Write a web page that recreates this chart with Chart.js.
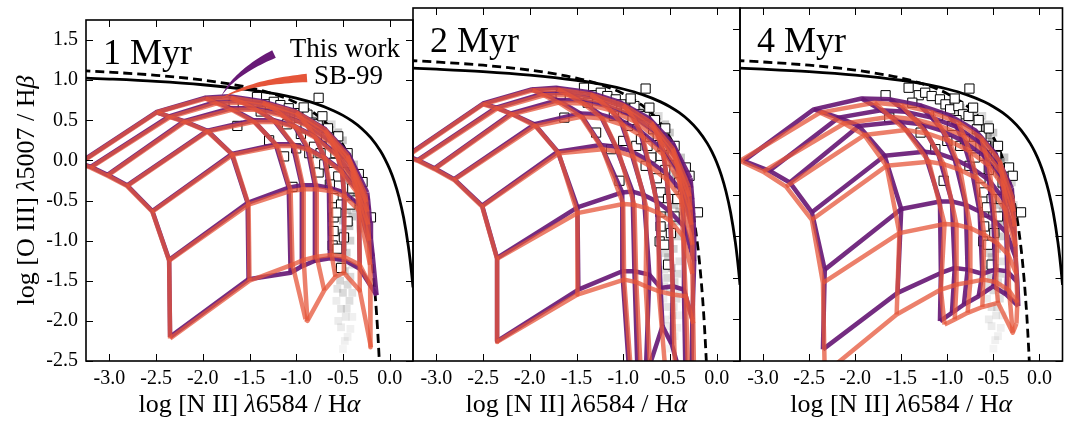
<!DOCTYPE html>
<html>
<head>
<meta charset="utf-8">
<script src="https://cdn.jsdelivr.net/npm/chart.js@4.4.1/dist/chart.umd.min.js"></script>
<style>
  html, body { margin: 0; padding: 0; background: #fff; overflow: hidden; }
  #wrap { position: relative; width: 1065px; height: 422px; overflow: hidden; }
  #wrap canvas { position: absolute; left: 0; top: 0; }
</style>
</head>
<body>
<div id="wrap">
  <canvas id="p1" width="1070" height="422"></canvas>
  <canvas id="p2" width="1070" height="422"></canvas>
  <canvas id="p3" width="1070" height="422"></canvas>
</div>
<script>
const xTicks = [-3.0, -2.5, -2.0, -1.5, -1.0, -0.5, 0.0];
const yTicks = [-2.5, -2.0, -1.5, -1.0, -0.5, 0.0, 0.5, 1.0, 1.5];
const ages = ['1 Myr', '2 Myr', '4 Myr'];

// model grids: one row per ionization parameter (high U first),
// one entry per metallicity (low Z first), each [log NII/Ha, log OIII/Hb]
const work1Myr = [
  [[-3.32,-0.03],[-2.50,0.60],[-1.98,0.78],[-1.72,0.80],[-1.38,0.74],[-1.02,0.62],[-0.70,0.40],[-0.44,0.08],[-0.24,-0.40]],
  [[-3.20,-0.08],[-2.36,0.55],[-1.86,0.73],[-1.60,0.74],[-1.28,0.68],[-0.96,0.55],[-0.66,0.33],[-0.42,0.01],[-0.23,-0.50]],
  [[-3.02,-0.18],[-2.20,0.49],[-1.70,0.65],[-1.44,0.65],[-1.16,0.58],[-0.89,0.45],[-0.61,0.22],[-0.39,-0.10],[-0.22,-0.62]],
  [[-2.81,-0.31],[-1.95,0.37],[-1.46,0.50],[-1.24,0.50],[-1.02,0.43],[-0.80,0.30],[-0.56,0.07],[-0.37,-0.24],[-0.21,-0.78]],
  [[-2.54,-0.63],[-1.69,0.08],[-1.22,0.20],[-1.04,0.20],[-0.88,0.15],[-0.70,0.04],[-0.51,-0.13],[-0.34,-0.38],[-0.20,-0.98]],
  [[-2.36,-1.24],[-1.52,-0.53],[-1.08,-0.34],[-0.94,-0.31],[-0.80,-0.31],[-0.65,-0.34],[-0.49,-0.40],[-0.33,-0.55],[-0.18,-1.20]],
  [[-2.35,-2.20],[-1.51,-1.48],[-1.06,-1.40],[-0.94,-1.32],[-0.80,-1.25],[-0.64,-1.22],[-0.49,-1.24],[-0.32,-1.35],[-0.14,-1.68]]
];
const sb1Myr = [
  [[-3.32,-0.04],[-2.49,0.60],[-1.97,0.77],[-1.70,0.78],[-1.36,0.72],[-1.00,0.60],[-0.69,0.38],[-0.45,0.06],[-0.26,-0.42]],
  [[-3.20,-0.09],[-2.35,0.54],[-1.85,0.71],[-1.58,0.72],[-1.26,0.66],[-0.95,0.53],[-0.66,0.31],[-0.43,-0.01],[-0.25,-0.52]],
  [[-3.02,-0.19],[-2.19,0.48],[-1.69,0.63],[-1.43,0.63],[-1.15,0.56],[-0.88,0.43],[-0.61,0.20],[-0.40,-0.12],[-0.24,-0.64]],
  [[-2.81,-0.32],[-1.95,0.36],[-1.45,0.48],[-1.22,0.48],[-1.00,0.41],[-0.79,0.28],[-0.56,0.05],[-0.38,-0.26],[-0.23,-0.80]],
  [[-2.54,-0.64],[-1.68,0.07],[-1.20,0.18],[-1.02,0.18],[-0.86,0.13],[-0.69,0.02],[-0.51,-0.15],[-0.35,-0.40],[-0.22,-1.00]],
  [[-2.36,-1.25],[-1.51,-0.55],[-1.06,-0.38],[-0.92,-0.36],[-0.78,-0.36],[-0.63,-0.38],[-0.48,-0.45],[-0.33,-0.62],[-0.21,-1.30]],
  [[-2.35,-2.22],[-1.50,-1.50],[-1.04,-1.30],[-0.92,-1.24],[-0.78,-1.20],[-0.62,-1.18],[-0.49,-1.20],[-0.32,-1.30],[-0.21,-1.55]],
  [null,null,[-0.90,-1.98],[-0.88,-2.00],[-0.70,-1.62],[-0.58,-1.45],[-0.49,-1.40],[-0.32,-1.62],[-0.20,-2.33]]
];
const work2Myr = [
  [[-3.32,-0.03],[-2.50,0.60],[-1.98,0.77],[-1.72,0.79],[-1.38,0.74],[-1.04,0.62],[-0.72,0.42],[-0.47,0.12],[-0.28,-0.30]],
  [[-3.20,-0.08],[-2.36,0.55],[-1.86,0.72],[-1.60,0.73],[-1.28,0.67],[-0.97,0.55],[-0.68,0.34],[-0.44,0.03],[-0.27,-0.42]],
  [[-3.02,-0.18],[-2.20,0.48],[-1.70,0.64],[-1.45,0.64],[-1.17,0.57],[-0.90,0.45],[-0.63,0.23],[-0.41,-0.09],[-0.26,-0.56]],
  [[-2.81,-0.31],[-1.95,0.35],[-1.46,0.48],[-1.25,0.47],[-1.03,0.40],[-0.82,0.27],[-0.58,0.05],[-0.39,-0.25],[-0.25,-0.74]],
  [[-2.51,-0.63],[-1.70,0.02],[-1.24,0.10],[-1.08,0.08],[-0.92,0.03],[-0.74,-0.08],[-0.54,-0.24],[-0.37,-0.46],[-0.24,-0.98]],
  [[-2.35,-1.26],[-1.49,-0.65],[-1.01,-0.47],[-0.90,-0.46],[-0.78,-0.50],[-0.64,-0.58],[-0.50,-0.70],[-0.35,-0.88],[-0.24,-1.30]],
  [[-2.35,-2.26],[-1.48,-1.64],[-1.01,-1.42],[-0.88,-1.42],[-0.72,-1.46],[-0.60,-1.62],[-0.47,-1.60],[-0.35,-1.64],[-0.26,-2.00]],
  [null,null,[-0.92,-2.90],[-0.84,-2.90],[-0.76,-2.70],[-0.58,-2.08],[-0.48,-2.30],[-0.33,-2.90],[-0.27,-2.70]]
];
const sb2Myr = [
  [[-3.32,-0.04],[-2.50,0.59],[-1.97,0.76],[-1.70,0.77],[-1.35,0.71],[-1.00,0.58],[-0.70,0.37],[-0.47,0.06],[-0.30,-0.40]],
  [[-3.20,-0.09],[-2.35,0.54],[-1.85,0.70],[-1.58,0.70],[-1.25,0.63],[-0.94,0.50],[-0.66,0.28],[-0.45,-0.04],[-0.29,-0.52]],
  [[-3.02,-0.19],[-2.19,0.47],[-1.69,0.61],[-1.43,0.60],[-1.14,0.52],[-0.87,0.38],[-0.61,0.16],[-0.42,-0.16],[-0.28,-0.68]],
  [[-2.81,-0.32],[-1.94,0.33],[-1.45,0.44],[-1.22,0.42],[-1.00,0.34],[-0.79,0.20],[-0.57,-0.02],[-0.40,-0.33],[-0.27,-0.86]],
  [[-2.51,-0.64],[-1.69,0.00],[-1.22,0.05],[-1.05,0.02],[-0.89,-0.04],[-0.72,-0.15],[-0.53,-0.32],[-0.38,-0.55],[-0.26,-1.10]],
  [[-2.35,-1.27],[-1.49,-0.72],[-1.00,-0.61],[-0.88,-0.62],[-0.75,-0.66],[-0.62,-0.72],[-0.49,-0.82],[-0.36,-1.00],[-0.26,-1.45]],
  [[-2.35,-2.27],[-1.49,-1.70],[-0.99,-1.52],[-0.86,-1.55],[-0.76,-1.60],[-0.62,-1.66],[-0.47,-1.70],[-0.33,-1.72],[-0.25,-2.05]],
  [null,null,[-0.90,-2.90],[-0.80,-2.90],[-0.70,-2.80],[-0.55,-2.60],[-0.44,-2.80],[-0.30,-2.90],[-0.24,-2.80]]
];
const work4Myr = [
  [[-3.21,-0.09],[-2.45,0.53],[-1.93,0.66],[-1.62,0.65],[-1.30,0.58],[-0.98,0.46],[-0.70,0.28],[-0.48,0.00],[-0.30,-0.42]],
  [[-2.93,-0.21],[-2.18,0.43],[-1.72,0.52],[-1.45,0.50],[-1.17,0.43],[-0.90,0.32],[-0.65,0.13],[-0.45,-0.14],[-0.29,-0.58]],
  [[-2.71,-0.35],[-1.96,0.33],[-1.52,0.38],[-1.28,0.35],[-1.05,0.27],[-0.83,0.15],[-0.60,-0.03],[-0.42,-0.28],[-0.28,-0.75]],
  [[-2.47,-0.71],[-1.68,-0.03],[-1.25,0.02],[-1.10,0.00],[-0.92,-0.07],[-0.74,-0.17],[-0.55,-0.32],[-0.39,-0.55],[-0.27,-1.00]],
  [[-2.33,-1.40],[-1.50,-0.67],[-1.08,-0.58],[-0.95,-0.58],[-0.80,-0.62],[-0.65,-0.70],[-0.50,-0.80],[-0.36,-0.95],[-0.26,-1.25]],
  [[-2.35,-2.36],[-1.54,-1.68],[-1.07,-1.44],[-0.92,-1.38],[-0.78,-1.40],[-0.62,-1.45],[-0.48,-1.40],[-0.35,-1.42],[-0.24,-1.55]],
  [null,null,[-1.08,-2.02],[-0.95,-1.92],[-0.82,-1.82],[-0.66,-1.72],[-0.50,-1.60],[-0.36,-1.70],[-0.23,-1.84]]
];
const sb4Myr = [
  [[-3.25,-0.09],[-2.38,0.49],[-1.79,0.61],[-1.50,0.58],[-1.18,0.50],[-0.88,0.37],[-0.63,0.18],[-0.43,-0.10],[-0.29,-0.55]],
  [[-3.00,-0.22],[-2.12,0.36],[-1.62,0.44],[-1.36,0.41],[-1.08,0.33],[-0.82,0.21],[-0.59,0.02],[-0.41,-0.24],[-0.28,-0.70]],
  [[-2.75,-0.40],[-1.90,0.22],[-1.45,0.28],[-1.22,0.24],[-0.98,0.15],[-0.76,0.03],[-0.55,-0.15],[-0.39,-0.40],[-0.27,-0.88]],
  [[-2.47,-0.80],[-1.66,-0.15],[-1.20,-0.10],[-1.04,-0.13],[-0.86,-0.20],[-0.68,-0.30],[-0.51,-0.46],[-0.37,-0.68],[-0.26,-1.12]],
  [[-2.35,-1.56],[-1.52,-0.96],[-1.03,-0.85],[-0.90,-0.86],[-0.75,-0.90],[-0.60,-0.98],[-0.46,-1.08],[-0.34,-1.22],[-0.25,-1.45]],
  [[-2.33,-2.65],[-1.55,-1.94],[-1.07,-1.64],[-0.90,-1.58],[-0.75,-1.55],[-0.61,-1.52],[-0.47,-1.55],[-0.33,-1.65],[-0.24,-1.80]],
  [null,null,[-1.03,-2.06],[-0.92,-2.00],[-0.78,-1.92],[-0.62,-1.85],[-0.45,-1.80],[-0.29,-2.16],[-0.25,-2.05]]
];
const workGrids = [work1Myr, work2Myr, work4Myr];
const sbGrids = [sb1Myr, sb2Myr, sb4Myr];

// Kewley et al. (2001) maximum starburst line
const kewleyX = [-3.3, -3.0, -2.5, -2.0, -1.5, -1.2, -1.0, -0.8, -0.6, -0.5, -0.4, -0.3, -0.2, -0.1, -0.05, 0.0, 0.05, 0.1, 0.15, 0.2, 0.22, 0.25, 0.28];
const kewleyY = [1.028, 1.014, 0.985, 0.943, 0.880, 0.825, 0.775, 0.710, 0.620, 0.561, 0.489, 0.398, 0.280, 0.120, 0.017, -0.108, -0.262, -0.459, -0.716, -1.069, -1.250, -1.583, -2.021];
// Kauffmann et al. (2003) empirical line
const kauffX = [-3.3, -3.0, -2.5, -2.0, -1.5, -1.2, -1.0, -0.8, -0.7, -0.6, -0.5, -0.45, -0.4, -0.35, -0.3, -0.25, -0.2, -0.175, -0.15, -0.13, -0.11, -0.1];
const kauffY = [1.118, 1.100, 1.061, 1.002, 0.906, 0.812, 0.719, 0.582, 0.487, 0.362, 0.191, 0.080, -0.056, -0.225, -0.443, -0.733, -1.140, -1.411, -1.750, -2.089, -2.513, -2.767];

// observed galaxies
const obsX = [-1.67,-1.63,-1.42,-1.31,-1.24,-1.17,-1.08,-1.02,-0.97,-0.88,-0.76,-0.83,-0.77,-0.72,-0.68,-0.63,-0.58,-0.45,-0.47,-0.33,-0.29,-1.29,-1.13,-1.04,-0.86,-0.95,-0.81,-0.74,-0.76,-0.60,-0.60,-0.52,-0.60,-0.45,-0.20,-0.60,-0.49,-0.61,-0.56,-0.52,-1.38,-0.90,-0.66,-0.55,-1.00,-0.70,-0.55,-0.40,-0.36,-0.92,-1.10,-0.64,-0.57,-0.42];
const obsY = [0.70,0.43,0.79,0.70,0.73,0.69,0.65,0.59,0.53,0.57,0.78,0.47,0.45,0.55,0.29,0.21,0.09,0.09,-0.03,-0.17,-0.27,0.25,0.05,-0.33,0.09,0.33,0.17,0.09,-0.15,-0.03,-0.47,-0.55,-0.71,-0.76,-0.71,-0.88,-0.96,-1.06,-1.10,-1.34,0.61,0.40,0.40,0.30,0.15,-0.05,-0.20,-0.35,-0.50,0.66,0.45,-0.30,-0.65,-0.55];

// SDSS comparison sample, binned
const sdssX = [-0.95,-0.85,-0.78,-0.70,-0.64,-0.60,-0.56,-0.52,-0.48,-0.45,-0.42,-0.40,-0.37,-0.35,-0.33,-0.36,-0.40,-0.43,-0.47,-0.50,-0.46,-0.52,-0.48,-0.53,-0.45,-0.50,-0.43,-0.52,-0.47,-0.52,-0.45,-0.50,-0.62,-0.55,-0.50,-0.58,-0.30,-0.28,-0.56,-0.40,-0.57,-0.40,
  -0.90,-0.75,-0.68,-0.62,-0.55,-0.50,-0.47,-0.44,-0.41,-0.40,-0.45,-0.50,-0.55,-0.42,-0.55,-0.42,-0.56,-0.40,-0.46,-0.55,-0.42,-0.48,-0.38,-0.35,-0.32,-0.31];
const sdssY = [0.58,0.55,0.50,0.44,0.38,0.30,0.22,0.14,0.06,-0.02,-0.10,-0.20,-0.30,-0.40,-0.50,-0.60,-0.70,-0.82,-0.95,-1.08,-1.15,-1.25,-1.38,-1.50,-1.55,-1.65,-1.75,-1.85,-1.95,-2.08,-2.20,-2.35,0.45,0.35,0.25,0.10,-0.35,-0.62,-1.40,-1.30,-1.75,-1.95,
  0.50,0.42,0.32,0.22,0.10,0.00,-0.12,-0.25,-0.38,-0.50,-0.62,-0.75,-0.90,-1.00,-1.20,-1.45,-1.60,-1.65,-1.85,-2.00,-2.10,-2.25,-0.05,-0.20,-0.45,-0.85];
const sdssShade = [0.15,0.2,0.25,0.3,0.35,0.4,0.45,0.45,0.5,0.5,0.5,0.45,0.45,0.4,0.35,0.3,0.3,0.3,0.3,0.3,0.25,0.25,0.25,0.22,0.2,0.2,0.18,0.15,0.12,0.1,0.08,0.06,0.2,0.3,0.3,0.25,0.25,0.2,0.15,0.15,0.1,0.08,
  0.15,0.25,0.3,0.35,0.4,0.4,0.4,0.4,0.35,0.3,0.3,0.3,0.25,0.25,0.2,0.2,0.15,0.15,0.15,0.1,0.08,0.08,0.3,0.3,0.25,0.15];

const PURPLE = 'rgba(104,26,118,0.92)';
const ORANGE = 'rgba(229,85,57,0.75)';
const panelLeft = [86, 413, 740];
const panelWidth = 327;
const CANVAS_W = 1070;
const SERIF = '"Liberation Serif", "DejaVu Serif", serif';

const toXY = (xs, ys) => xs.map((x, i) => ({ x: x, y: ys[i] }));

function gridDatasets(grid, color, order) {
  const mk = pts => ({
    data: pts.filter(p => p).map(p => ({ x: p[0], y: p[1] })),
    showLine: true, borderColor: color, borderWidth: 4.5,
    pointRadius: 0, borderJoinStyle: 'round', order: order, clip: 0
  });
  const sets = grid.map(mk);
  for (let j = 0; j < grid[0].length; j++) sets.push(mk(grid.map(r => r[j])));
  return sets;
}

// text with italic greek symbols, centered at cx
function richText(ctx, parts, cx, cy, size) {
  const fonts = parts.map(p => (p[1] ? 'italic ' : '') + size + 'px ' + SERIF);
  let total = 0;
  const widths = parts.map((p, i) => { ctx.font = fonts[i]; const w = ctx.measureText(p[0]).width; total += w; return w; });
  let x = cx - total / 2;
  parts.forEach((p, i) => { ctx.font = fonts[i]; ctx.fillText(p[0], x, cy); x += widths[i]; });
}

function swoosh(ctx, p0, c, p1, wMax, color) {
  const left = [], right = [];
  for (let i = 0; i <= 24; i++) {
    const t = i / 24, u = 1 - t;
    const x = u * u * p0[0] + 2 * u * t * c[0] + t * t * p1[0];
    const y = u * u * p0[1] + 2 * u * t * c[1] + t * t * p1[1];
    const dx = 2 * u * (c[0] - p0[0]) + 2 * t * (p1[0] - c[0]);
    const dy = 2 * u * (c[1] - p0[1]) + 2 * t * (p1[1] - c[1]);
    const len = Math.hypot(dx, dy);
    const w = (0.4 + t * wMax) / 2;
    left.push([x - dy / len * w, y + dx / len * w]);
    right.push([x + dy / len * w, y - dx / len * w]);
  }
  ctx.beginPath();
  left.concat(right.reverse()).forEach((p, i) => i ? ctx.lineTo(p[0], p[1]) : ctx.moveTo(p[0], p[1]));
  ctx.closePath();
  ctx.fillStyle = color;
  ctx.fill();
}

const framePlugin = {
  id: 'frame',
  afterDraw(chart, args, opts) {
    const { ctx, chartArea: a, scales: { x, y } } = chart;
    ctx.save();
    ctx.strokeStyle = '#000';
    ctx.lineWidth = 1;
    ctx.beginPath();
    xTicks.forEach(v => {
      const px = Math.round(x.getPixelForValue(v)) + 0.5;
      ctx.moveTo(px, a.top); ctx.lineTo(px, a.top + 7);
      ctx.moveTo(px, a.bottom); ctx.lineTo(px, a.bottom - 7);
    });
    yTicks.forEach(v => {
      const py = Math.round(y.getPixelForValue(v)) + 0.5;
      if (opts.leftTicks) { ctx.moveTo(a.left, py); ctx.lineTo(a.left + 7, py); }
      ctx.moveTo(a.right, py); ctx.lineTo(a.right - 7, py);
    });
    ctx.stroke();
    ctx.lineWidth = 1.6;
    ctx.strokeRect(a.left, a.top, a.right - a.left, a.bottom - a.top);

    ctx.fillStyle = '#000';
    ctx.textBaseline = 'alphabetic';
    ctx.textAlign = 'left';
    ctx.font = '36px ' + SERIF;
    ctx.fillText(opts.label, a.left + 17, a.top + 44);

    richText(ctx, [['log [N II] ', false], ['λ', true], ['6584 / H', false], ['α', true]], (a.left + a.right) / 2, 412, 26);

    if (opts.yTitle) {
      ctx.save();
      ctx.translate(34, (a.top + a.bottom) / 2);
      ctx.rotate(-Math.PI / 2);
      richText(ctx, [['log [O III] ', false], ['λ', true], ['5007 / H', false], ['β', true]], 0, 0, 26);
      ctx.restore();
    }

    if (opts.legend) {
      const L = a.left, T = a.top;
      swoosh(ctx, [L + 136, T + 75], [L + 150, T + 52], [L + 188, T + 34], 8, 'rgb(104,26,118)');
      swoosh(ctx, [L + 136, T + 78], [L + 164, T + 62], [L + 221, T + 58], 8, 'rgb(229,85,57)');
      ctx.fillStyle = '#000';
      ctx.textAlign = 'right';
      ctx.font = '27px ' + SERIF;
      ctx.fillText('This work', L + 314, T + 37);
      ctx.fillText('SB-99', L + 297, T + 64);
    }
    ctx.restore();
  }
};

function makePanel(i) {
  const datasets = [
    ...gridDatasets(sbGrids[i], ORANGE, 1),
    ...gridDatasets(workGrids[i], PURPLE, 2),
    {
      data: toXY(obsX, obsY), pointStyle: 'rect', pointRadius: 6.5,
      backgroundColor: '#fff', borderColor: '#000', borderWidth: 1, order: 3, clip: 0
    },
    {
      data: toXY(kewleyX, kewleyY), showLine: true, borderColor: '#000', borderWidth: 2.8,
      pointRadius: 0, cubicInterpolationMode: 'monotone', order: 4, clip: 0
    },
    {
      data: toXY(kauffX, kauffY), showLine: true, borderColor: '#000', borderWidth: 2.8,
      borderDash: [9, 5], pointRadius: 0, cubicInterpolationMode: 'monotone', order: 4, clip: 0
    },
    {
      data: toXY(sdssX, sdssY), pointStyle: 'rect', pointRadius: 5.5,
      backgroundColor: sdssShade.map(s => 'rgba(70,70,70,' + s + ')'), borderWidth: 0, order: 5, clip: 0
    }
  ];

  const left = panelLeft[i];
  const first = i === 0;
  new Chart(document.getElementById('p' + (i + 1)), {
    type: 'scatter',
    data: { datasets: datasets },
    plugins: [framePlugin],
    options: {
      responsive: false,
      animation: false,
      events: [],
      layout: { padding: { left: first ? 0 : left, right: CANVAS_W - left - panelWidth, top: 8, bottom: 0 } },
      plugins: {
        legend: { display: false },
        tooltip: { enabled: false },
        frame: { label: ages[i], leftTicks: first, yTitle: first, legend: first }
      },
      scales: {
        x: {
          type: 'linear', min: -3.25, max: 0.25,
          afterBuildTicks: s => { s.ticks = xTicks.map(v => ({ value: v })); },
          afterFit: s => { s.height = 61; },
          grid: { display: false, drawTicks: false },
          border: { display: false },
          ticks: { padding: 6, color: '#000', maxRotation: 0, font: { family: SERIF, size: 20 }, callback: v => v.toFixed(1) }
        },
        y: {
          type: 'linear', min: -2.5, max: 1.75, display: first,
          afterBuildTicks: s => { s.ticks = yTicks.map(v => ({ value: v })); },
          afterFit: s => { s.width = first ? 86 : 0; },
          grid: { display: false, drawTicks: false },
          border: { display: false },
          ticks: { padding: 8, color: '#000', font: { family: SERIF, size: 20 }, callback: v => v.toFixed(1) }
        }
      }
    }
  });
}

[0, 1, 2].forEach(makePanel);
</script>
</body>
</html>
